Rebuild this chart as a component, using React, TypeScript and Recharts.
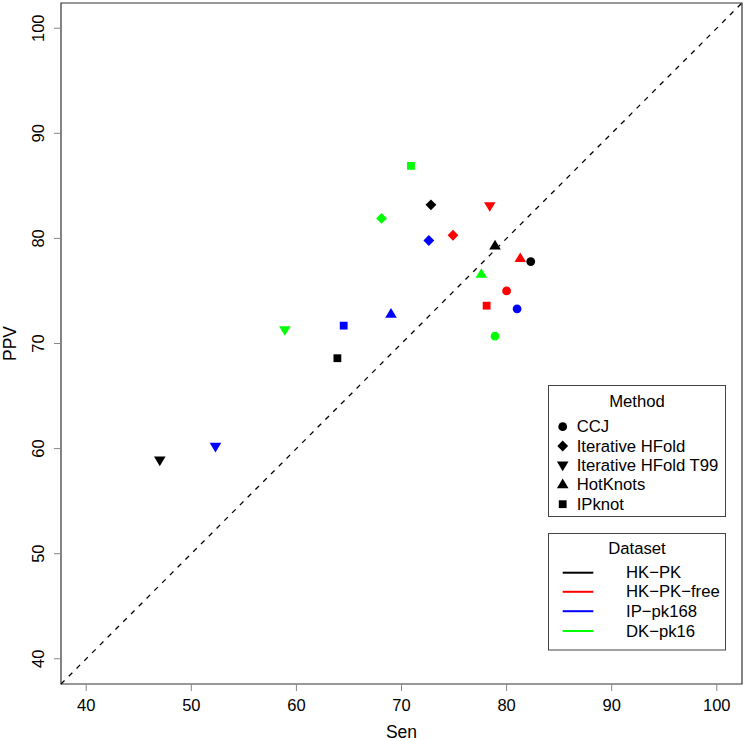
import { ScatterChart, Scatter, XAxis, YAxis, ReferenceLine, ReferenceArea } from "recharts";

const METHODS = ["CCJ", "Iterative HFold", "Iterative HFold T99", "HotKnots", "IPknot"];
const DATASETS = ["HK−PK", "HK−PK−free", "IP−pk168", "DK−pk16"];
const COLORS = ["#000000", "#FF0000", "#0000FF", "#00FF00"];

// Sen / PPV per dataset, in METHODS order
const HK_PK_SEN = [82.3, 72.8, 47.0, 78.9, 63.9];
const HK_PK_PPV = [77.8, 83.2, 58.9, 79.3, 68.6];
const HK_PK_FREE_SEN = [80.0, 74.9, 78.4, 81.3, 78.1];
const HK_PK_FREE_PPV = [75.0, 80.3, 83.1, 78.1, 73.6];
const IP_PK168_SEN = [81.0, 72.6, 52.3, 69.0, 64.5];
const IP_PK168_PPV = [73.3, 79.8, 60.2, 72.8, 71.7];
const DK_PK16_SEN = [78.9, 68.1, 58.9, 77.6, 70.9];
const DK_PK16_PPV = [70.7, 81.9, 71.3, 76.6, 86.9];

const SEN = [HK_PK_SEN, HK_PK_FREE_SEN, IP_PK168_SEN, DK_PK16_SEN];
const PPV = [HK_PK_PPV, HK_PK_FREE_PPV, IP_PK168_PPV, DK_PK16_PPV];

const TICKS = [40, 50, 60, 70, 80, 90, 100];
const LO = 37.6;
const HI = 102.4;

const FONT = "'Liberation Sans', Arial, Helvetica, sans-serif";

const Marker = ({ kind, cx, cy, fill }: { kind: number; cx: number; cy: number; fill: string }) => {
  switch (kind) {
    case 0:
      return <circle cx={cx} cy={cy} r={4.4} fill={fill} />;
    case 1:
      return (
        <polygon
          points={`${cx},${cy - 5.4} ${cx + 5.4},${cy} ${cx},${cy + 5.4} ${cx - 5.4},${cy}`}
          fill={fill}
        />
      );
    case 2:
      return (
        <polygon
          points={`${cx - 5.8},${cy - 3.7} ${cx + 5.8},${cy - 3.7} ${cx},${cy + 6}`}
          fill={fill}
        />
      );
    case 3:
      return (
        <polygon
          points={`${cx - 5.8},${cy + 3.7} ${cx + 5.8},${cy + 3.7} ${cx},${cy - 6}`}
          fill={fill}
        />
      );
    default:
      return <rect x={cx - 3.9} y={cy - 3.9} width={7.8} height={7.8} fill={fill} />;
  }
};

const YTick = (props: any) => {
  const { x, y, payload } = props;
  const tx = x - 14;
  return (
    <text
      x={tx}
      y={y}
      transform={`rotate(-90 ${tx} ${y})`}
      textAnchor="middle"
      dominantBaseline="central"
      fontSize={16.5}
      fontFamily={FONT}
      fill="#000"
    >
      {payload.value}
    </text>
  );
};

const Legends = () => {
  const mRows = [426.7, 446, 465.2, 484.6, 504.2];
  const dRows = [572.7, 591.8, 611.2, 631];
  return (
    <svg
      width={745}
      height={741}
      style={{ position: "absolute", left: 0, top: 0, pointerEvents: "none" }}
      fontFamily={FONT}
    >
      <text x={401.5} y={732} textAnchor="middle" dominantBaseline="central" fontSize={17.5}>
        Sen
      </text>
      <text
        x={10}
        y={343.5}
        transform="rotate(-90 10 343.5)"
        textAnchor="middle"
        dominantBaseline="central"
        fontSize={17.5}
      >
        PPV
      </text>

      <rect x={548.5} y={385.5} width={177} height={131} fill="#fff" stroke="#444" />
      <text x={637} y={401} textAnchor="middle" dominantBaseline="central" fontSize={16.7}>
        Method
      </text>
      {METHODS.map((m, i) => (
        <g key={m}>
          <Marker kind={i} cx={562.7} cy={mRows[i]} fill="#000" />
          <text x={576.7} y={mRows[i]} dominantBaseline="central" fontSize={16.7}>
            {m}
          </text>
        </g>
      ))}

      <rect x={548.5} y={533.5} width={177} height={116.5} fill="#fff" stroke="#444" />
      <text x={637} y={548.5} textAnchor="middle" dominantBaseline="central" fontSize={16.7}>
        Dataset
      </text>
      {DATASETS.map((d, i) => (
        <g key={d}>
          <line x1={562.7} x2={593.3} y1={dRows[i]} y2={dRows[i]} stroke={COLORS[i]} strokeWidth={2} />
          <text x={626} y={dRows[i]} dominantBaseline="central" fontSize={16.7}>
            {d}
          </text>
        </g>
      ))}
    </svg>
  );
};

export default function App() {
  return (
    <div style={{ position: "absolute", left: 0, top: 0, width: 745, height: 741, background: "#fff" }}>
      <ScatterChart width={745} height={741} margin={{ top: 3, right: 3, bottom: 0, left: 0 }}>
        <XAxis
          type="number"
          dataKey="x"
          domain={[LO, HI]}
          ticks={TICKS}
          allowDataOverflow
          height={57}
          axisLine={false}
          tickLine={{ stroke: "#888" }}
          tickSize={7}
          tickMargin={8}
          tick={{ fontSize: 16.5, fontFamily: FONT, fill: "#000" }}
        />
        <YAxis
          type="number"
          dataKey="y"
          domain={[LO, HI]}
          ticks={TICKS}
          allowDataOverflow
          width={61}
          axisLine={false}
          tickLine={{ stroke: "#888" }}
          tickSize={7}
          tickMargin={2}
          tick={<YTick />}
        />
        <ReferenceArea
          x1={LO}
          x2={HI}
          y1={LO}
          y2={HI}
          fill="none"
          fillOpacity={0}
          stroke="#333"
          strokeWidth={1.2}
          ifOverflow="visible"
        />
        <ReferenceLine
          segment={[
            { x: LO, y: LO },
            { x: HI, y: HI },
          ]}
          stroke="#000"
          strokeWidth={1.3}
          strokeDasharray="5 6"
          ifOverflow="visible"
        />
        {DATASETS.map((d, di) => (
          <Scatter
            key={d}
            name={d}
            data={METHODS.map((m, mi) => ({ x: SEN[di][mi], y: PPV[di][mi], method: mi }))}
            isAnimationActive={false}
            shape={(p: any) => <Marker kind={p.payload.method} cx={p.cx} cy={p.cy} fill={COLORS[di]} />}
          />
        ))}
      </ScatterChart>
      <Legends />
    </div>
  );
}
